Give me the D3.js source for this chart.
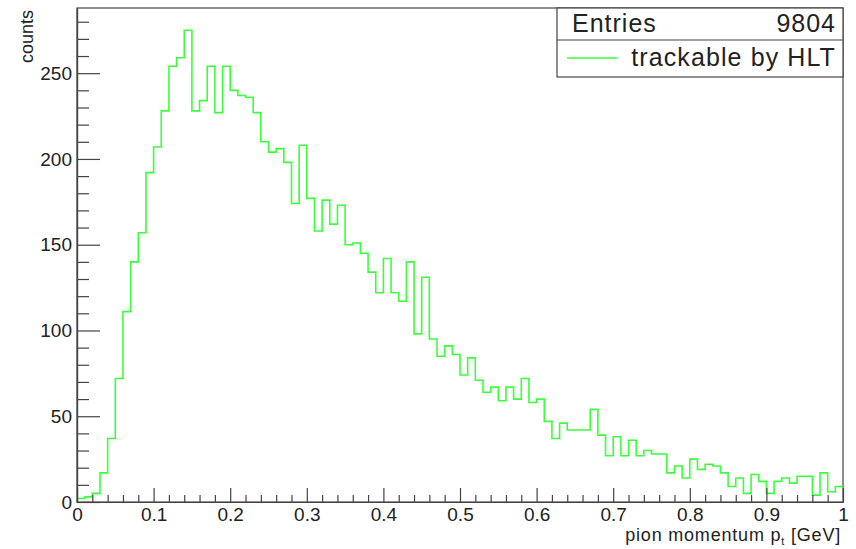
<!DOCTYPE html>
<html>
<head>
<meta charset="utf-8">
<style>
  body { margin: 0; background: #fff; }
  svg { display: block; font-family: "Liberation Sans", Arial, sans-serif; }
</style>
</head>
<body>
<svg id="chart" width="856" height="549"></svg>
<script src="https://cdn.jsdelivr.net/npm/d3@7"></script>
<script>
  // pion momentum histogram, 100 bins of 0.01 GeV from 0 to 1
  const binLow = 0;
  const binWidth = 0.01;
  const counts = [
    2, 3, 5, 17, 37, 72, 111, 140, 157, 192,
    207, 228, 254, 259, 275, 228, 234, 254, 227, 254,
    240, 237, 236, 227, 210, 204, 206, 198, 174, 208,
    177, 158, 176, 162, 173, 150, 151, 145, 134, 122,
    142, 122, 117, 140, 98, 131, 95, 85, 91, 86,
    74, 84, 71, 64, 67, 59, 67, 60, 72, 58,
    60, 47, 37, 46, 42, 42, 42, 54, 39, 27,
    38, 27, 36, 27, 30, 28, 28, 17, 21, 14,
    25, 19, 22, 21, 17, 9, 14, 5, 16, 12,
    5, 12, 14, 11, 15, 15, 4, 17, 6, 9
  ];
  const xMajorTicks = [0, 0.1, 0.2, 0.3, 0.4, 0.5, 0.6, 0.7, 0.8, 0.9, 1];
  const xTickLabels = ["0", "0.1", "0.2", "0.3", "0.4", "0.5", "0.6", "0.7", "0.8", "0.9", "1"];
  const yMajorTicks = [0, 50, 100, 150, 200, 250];
  const legendLabel = "trackable by HLT";
  const entries = 9804;

  const svg = d3.select("#chart");
  const plotL = 77, plotR = 843, plotT = 8, plotB = 502;
  const axisCol = "#444";
  const histCol = "#3cff3c";

  const x = d3.scaleLinear().domain([0, 1]).range([plotL, plotR]);
  const y = d3.scaleLinear().domain([0, 288]).range([plotB, plotT]);

  // frame
  svg.append("rect")
    .attr("x", plotL).attr("y", plotT)
    .attr("width", plotR - plotL).attr("height", plotB - plotT)
    .attr("fill", "none").attr("stroke", axisCol).attr("stroke-width", 1.2);

  // histogram outline
  const pts = [];
  counts.forEach((c, i) => {
    const x0 = binLow + i * binWidth;
    pts.push([x(x0), y(c)]);
    pts.push([x(x0 + binWidth), y(c)]);
  });
  svg.append("path")
    .attr("d", d3.line()(pts))
    .attr("fill", "none")
    .attr("stroke", histCol)
    .attr("stroke-width", 1.6);

  // y axis
  svg.append("g")
    .attr("transform", `translate(${plotL},0)`)
    .call(d3.axisLeft(y).tickValues(yMajorTicks).tickSize(-23).tickPadding(5).tickSizeOuter(0));
  const yMinor = d3.range(10, 290, 10).filter(v => v % 50 !== 0);
  svg.append("g")
    .attr("transform", `translate(${plotL},0)`)
    .call(d3.axisLeft(y).tickValues(yMinor).tickSize(-12).tickFormat("").tickSizeOuter(0));

  // x axis
  svg.append("g")
    .attr("class", "xaxis")
    .attr("transform", `translate(0,${plotB})`)
    .call(d3.axisBottom(x).tickValues(xMajorTicks).tickSize(-14).tickPadding(6)
      .tickFormat((d, i) => xTickLabels[i]).tickSizeOuter(0));
  const xMinor = d3.range(1, 50).map(k => k * 0.02).filter(v => Math.abs(v * 10 - Math.round(v * 10)) > 1e-6);
  svg.append("g")
    .attr("transform", `translate(0,${plotB})`)
    .call(d3.axisBottom(x).tickValues(xMinor).tickSize(-7).tickFormat("").tickSizeOuter(0));

  svg.selectAll(".domain").attr("stroke", axisCol).attr("stroke-width", 1.2);
  svg.selectAll(".tick line").attr("stroke", axisCol).attr("stroke-width", 1.2);
  svg.selectAll(".tick text").attr("fill", "#222").style("font-size", "19px")
    .style("font-family", "'Liberation Sans', Arial, sans-serif");
  svg.selectAll(".xaxis .tick text").attr("dy", "0.68em");

  // axis titles
  const xt = svg.append("text")
    .attr("x", 841).attr("y", 541)
    .attr("text-anchor", "end")
    .attr("fill", "#222").style("font-size", "18px").style("letter-spacing", "0.8px");
  xt.append("tspan").text("pion momentum p");
  xt.append("tspan").attr("dy", 4).style("font-size", "11px").text("t");
  xt.append("tspan").attr("dy", -4).text(" [GeV]");

  svg.append("text")
    .attr("transform", "translate(33,10) rotate(-90)")
    .attr("text-anchor", "end")
    .attr("fill", "#222").style("font-size", "18px")
    .text("counts");

  // stats / legend box
  const bx0 = 557, bx1 = 843, by0 = 8, byMid = 40, by1 = 77;
  svg.append("rect")
    .attr("x", bx0).attr("y", by0).attr("width", bx1 - bx0).attr("height", by1 - by0)
    .attr("fill", "#fff").attr("stroke", axisCol).attr("stroke-width", 1.2);
  svg.append("line")
    .attr("x1", bx0).attr("x2", bx1).attr("y1", byMid).attr("y2", byMid)
    .attr("stroke", axisCol).attr("stroke-width", 1.2);
  svg.append("text").attr("x", 572).attr("y", 32).attr("fill", "#222")
    .style("font-size", "25px").style("letter-spacing", "1px").text("Entries");
  svg.append("text").attr("x", 836).attr("y", 32).attr("text-anchor", "end").attr("fill", "#222")
    .style("font-size", "25px").style("letter-spacing", "1px").text(entries);
  svg.append("line")
    .attr("x1", 567).attr("x2", 617).attr("y1", 58).attr("y2", 58)
    .attr("stroke", histCol).attr("stroke-width", 1.6);
  svg.append("text").attr("x", 836).attr("y", 66).attr("text-anchor", "end").attr("fill", "#222")
    .style("font-size", "25px").style("letter-spacing", "1.1px").text(legendLabel);
</script>
</body>
</html>
